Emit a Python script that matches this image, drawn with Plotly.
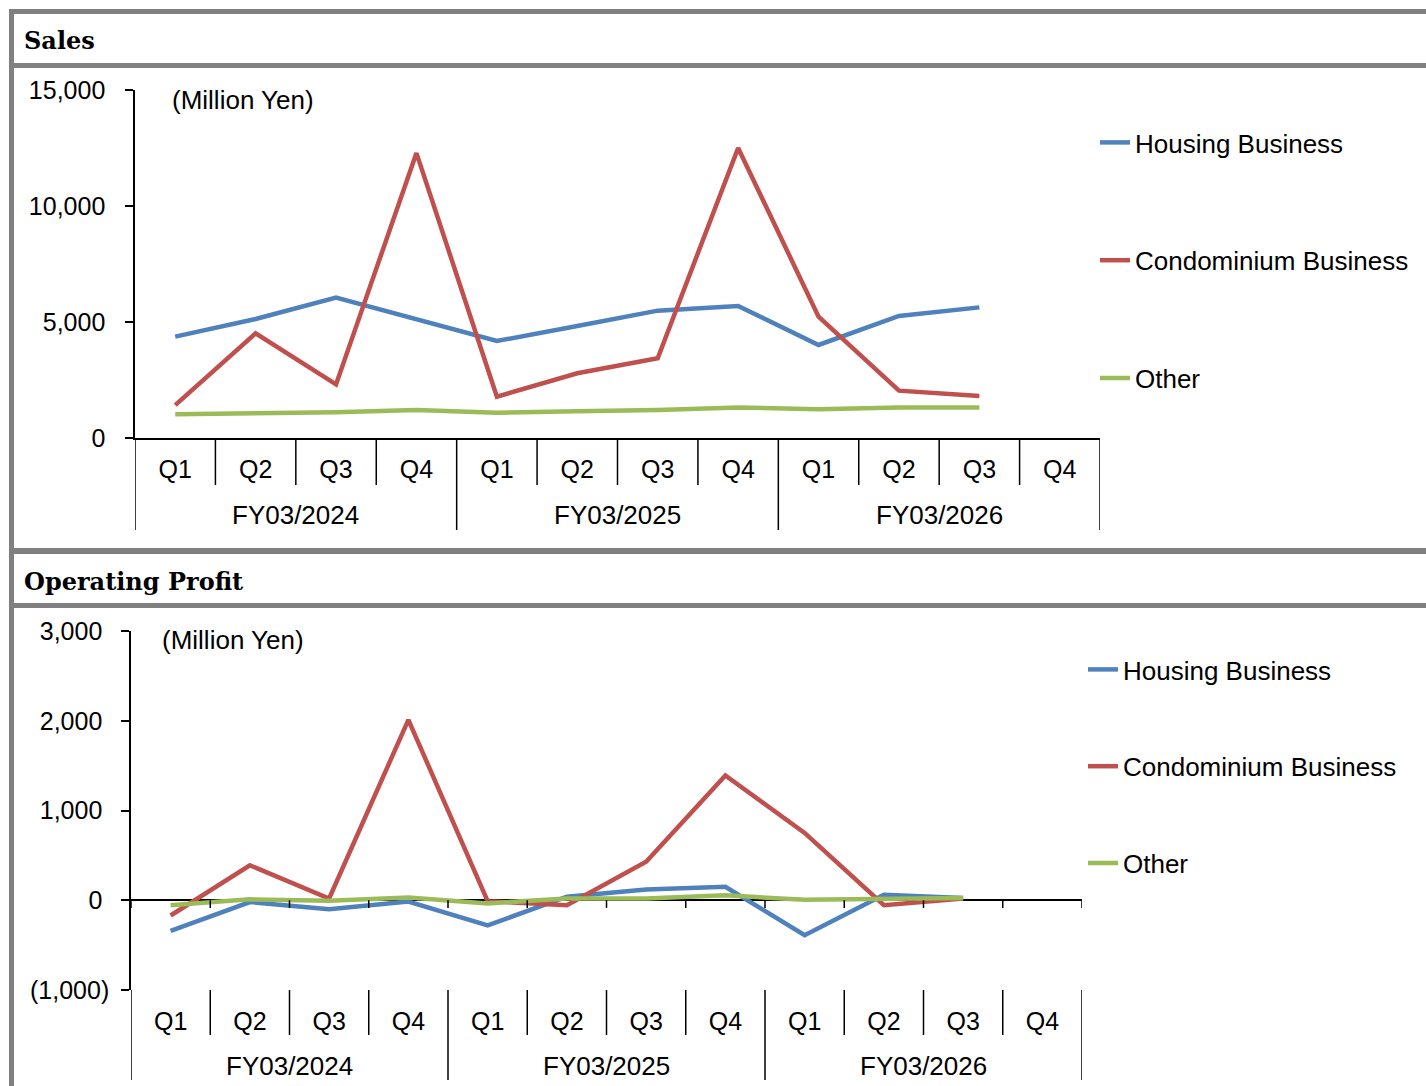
import plotly.graph_objects as go

W, H = 1426, 1086

# ---------------- data ----------------
quarters = ["Q1", "Q2", "Q3", "Q4", "Q1", "Q2", "Q3", "Q4", "Q1", "Q2", "Q3", "Q4"]
fiscal_years = ["FY03/2024", "FY03/2025", "FY03/2026"]
series_names = ["Housing Business", "Condominium Business", "Other"]

sales_housing = [4370, 5130, 6050, 5130, 4180, 4830, 5490, 5690, 4010, 5260, 5630, None]
sales_condo = [1420, 4510, 2310, 12280, 1780, 2790, 3440, 12500, 5230, 2040, 1810, None]
sales_other = [1020, 1060, 1110, 1210, 1090, 1150, 1210, 1320, 1240, 1310, 1320, None]

op_housing = [-340, -20, -100, -15, -280, 40, 120, 150, -390, 60, 25, None]
op_condo = [-170, 390, 20, 2010, -10, -55, 430, 1390, 750, -55, 20, None]
op_other = [-55, 10, -5, 30, -35, 20, 20, 55, 5, 20, 25, None]

sales_ticks = [0, 5000, 10000, 15000]
sales_tick_text = ["0\u00a0", "5,000\u00a0", "10,000\u00a0", "15,000\u00a0"]
op_ticks = [-1000, 0, 1000, 2000, 3000]
op_tick_text = ["(1,000)", "0\u00a0", "1,000\u00a0", "2,000\u00a0", "3,000\u00a0"]

colors = ["#4F81BD", "#C0504D", "#9BBB59"]

# ---------------- helpers ----------------
def px(x):
    return x / W

def py(y):
    return 1 - y / H

idx = list(range(len(quarters)))
n_per_year = 4

SANS = "Liberation Sans, Arial, sans-serif"
SERIF = "DejaVu Serif, serif"

fig = go.Figure()

for name, vals, col in zip(series_names, [sales_housing, sales_condo, sales_other], colors):
    fig.add_trace(go.Scatter(
        x=idx, y=vals, mode="lines", name=name,
        line=dict(color=col, width=4.5), xaxis="x", yaxis="y",
        legend="legend", legendgroup="s_" + name, connectgaps=False,
    ))

for name, vals, col in zip(series_names, [op_housing, op_condo, op_other], colors):
    fig.add_trace(go.Scatter(
        x=idx, y=vals, mode="lines", name=name,
        line=dict(color=col, width=4.5), xaxis="x2", yaxis="y2",
        legend="legend2", legendgroup="o_" + name, connectgaps=False,
    ))

shapes = []
gray = "#808080"

def rect(x0, y0, x1, y1):
    shapes.append(dict(type="rect", xref="paper", yref="paper",
                       x0=px(x0), x1=px(x1), y0=py(y1), y1=py(y0),
                       fillcolor=gray, line=dict(width=0), layer="above"))

# frame / header bands
rect(9, 9, W, 14)
rect(9, 9, 14, H)
rect(9, 63, W, 68)
rect(9, 548, W, 554)
rect(9, 603, W, 608)

# category separators (multi-level axis look)
def separators(xref, y_axis_px, q_bottom, y_bottom):
    for k in range(len(quarters) + 1):
        b = k - 0.5
        is_year = (k % n_per_year == 0)
        shapes.append(dict(type="line", xref=xref, yref="paper",
                           x0=b, x1=b, y0=py(y_axis_px),
                           y1=py(y_bottom if is_year else q_bottom),
                           line=dict(color="black", width=1.5)))

separators("x", 438, 485, 530)
separators("x2", 990, 1035, 1080)

# small ticks at the zero line in the operating profit panel
for k in range(len(quarters) + 1):
    b = k - 0.5
    shapes.append(dict(type="line", xref="x2", yref="y2",
                       x0=b, x1=b, y0=0, y1=-85,
                       line=dict(color="black", width=1.5)))

annotations = []
head_font = dict(family=SERIF, size=24, color="black", weight="bold")
annotations.append(dict(text="Sales", x=px(22), y=py(41), xref="paper", yref="paper",
                        xanchor="left", yanchor="middle", showarrow=False, font=head_font))
annotations.append(dict(text="Operating Profit", x=px(22), y=py(581), xref="paper", yref="paper",
                        xanchor="left", yanchor="middle", showarrow=False, font=head_font))
annotations.append(dict(text="(Million Yen)", x=px(170), y=py(100), xref="paper", yref="paper",
                        xanchor="left", yanchor="middle", showarrow=False,
                        font=dict(family=SANS, size=26, color="black")))
annotations.append(dict(text="(Million Yen)", x=px(160), y=py(640), xref="paper", yref="paper",
                        xanchor="left", yanchor="middle", showarrow=False,
                        font=dict(family=SANS, size=26, color="black")))

for i, fy in enumerate(fiscal_years):
    center = i * n_per_year + (n_per_year - 1) / 2
    annotations.append(dict(text=fy, x=center, y=py(515), xref="x", yref="paper",
                            xanchor="center", yanchor="middle", showarrow=False,
                            font=dict(family=SANS, size=26, color="black")))
    annotations.append(dict(text=fy, x=center, y=py(1066), xref="x2", yref="paper",
                            xanchor="center", yanchor="middle", showarrow=False,
                            font=dict(family=SANS, size=26, color="black")))

axis_font = dict(family=SANS, size=25, color="black")
legend_font = dict(family=SANS, size=26, color="black")

fig.update_layout(
    width=W, height=H, autosize=False,
    margin=dict(l=0, r=0, t=0, b=0, pad=0, autoexpand=False),
    paper_bgcolor="white", plot_bgcolor="white",
    font=dict(family=SANS, size=24, color="black"),
    shapes=shapes, annotations=annotations,
    xaxis=dict(domain=[px(135), px(1100)], range=[-0.5, len(quarters) - 0.5],
               tickvals=idx, ticktext=quarters, tickfont=axis_font,
               showline=True, linecolor="black", linewidth=1.5,
               ticks="", showgrid=False, zeroline=False, anchor="y",
               ticklabelstandoff=8, fixedrange=True, automargin=False),
    yaxis=dict(domain=[py(438), py(90)], range=[0, 15000],
               tickvals=sales_ticks, ticktext=sales_tick_text, tickfont=axis_font,
               showline=True, linecolor="black", linewidth=1.5,
               ticks="outside", ticklen=8, tickcolor="black", tickwidth=1.5,
               showgrid=False, zeroline=False, anchor="x",
               ticklabelstandoff=8, fixedrange=True, automargin=False),
    xaxis2=dict(domain=[px(131), px(1082)], range=[-0.5, len(quarters) - 0.5],
                tickvals=idx, ticktext=quarters, tickfont=axis_font,
                showline=False, ticks="", showgrid=False, zeroline=False,
                anchor="y2", ticklabelstandoff=14, fixedrange=True, automargin=False),
    yaxis2=dict(domain=[py(990), py(631)], range=[-1000, 3000],
                tickvals=op_ticks, ticktext=op_tick_text, tickfont=axis_font,
                showline=True, linecolor="black", linewidth=1.5,
                ticks="outside", ticklen=8, tickcolor="black", tickwidth=1.5,
                showgrid=False, zeroline=True, zerolinecolor="black", zerolinewidth=1.5,
                anchor="x2", ticklabelstandoff=7, fixedrange=True, automargin=False),
    legend=dict(x=px(1095), y=py(119), xanchor="left", yanchor="top",
                font=legend_font,
                bgcolor="rgba(0,0,0,0)", tracegroupgap=81, traceorder="grouped",
                itemclick=False, itemdoubleclick=False),
    legend2=dict(x=px(1083), y=py(646), xanchor="left", yanchor="top",
                 font=legend_font,
                 bgcolor="rgba(0,0,0,0)", tracegroupgap=60, traceorder="grouped",
                 itemclick=False, itemdoubleclick=False),
    showlegend=True,
)

fig.write_html("out.html")
